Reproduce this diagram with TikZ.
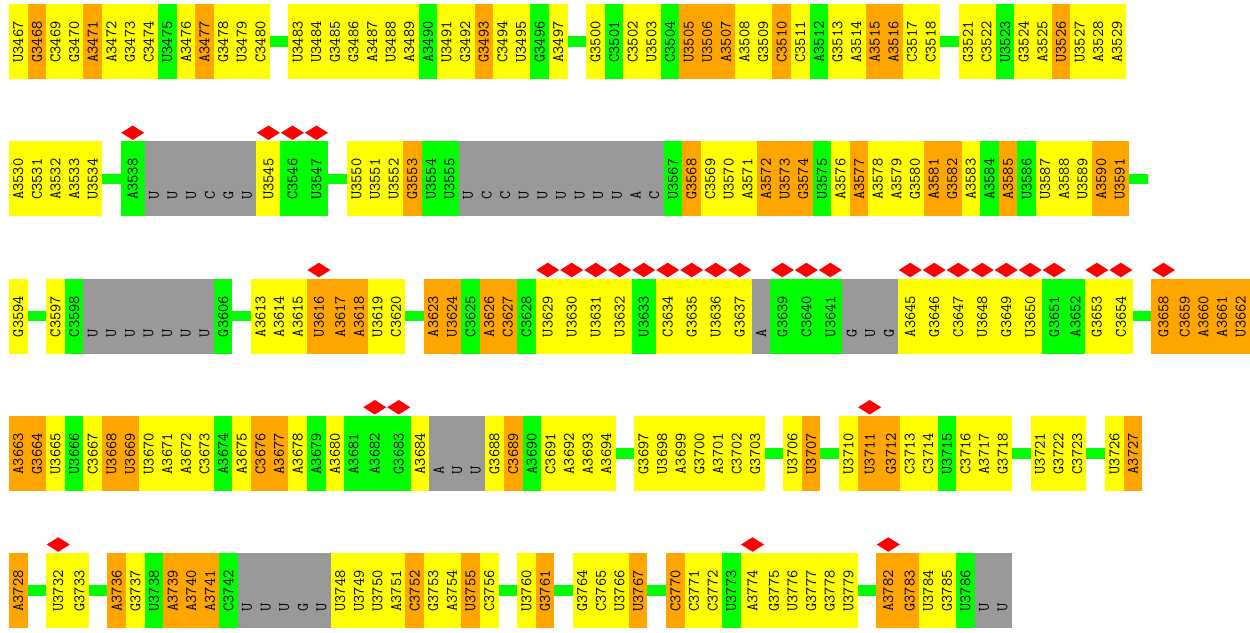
\documentclass[tikz,border=0pt]{standalone}
\usepackage{fontspec}
\usetikzlibrary{shapes.geometric}
\definecolor{cY}{RGB}{255,255,0}
\definecolor{cO}{RGB}{255,165,0}
\definecolor{cG}{RGB}{0,255,0}
\definecolor{cK}{RGB}{153,153,153}
\definecolor{cR}{RGB}{255,0,0}
\tikzset{
  cell/.style={rotate=90, minimum width=75pt, inner sep=0pt, outer sep=0pt,
    font=\ttfamily\fontsize{16}{16}\selectfont},
  redmark/.style={diamond, fill=cR, minimum width=23pt, minimum height=14.5pt,
    inner sep=0pt, outer sep=0pt},
  conn/.style={draw=cG, line width=10.5pt},
}
\newcommand\cellrow[2]{%
  \xdef\curx{9}%
  \pgfmathsetmacro\rtop{#1}%
  \pgfmathsetmacro\rmid{#1+37.5}%
  \foreach \ltr/\cnum/\ccol/\ctyp in {#2}{%
    \ifnum\ctyp=3
      \pgfmathsetmacro\nx{\curx+18.62}\xdef\curx{\nx}%
    \else
      \ifnum\ctyp=1 \def\cw{24}\else\def\cw{18.62}\fi
      \pgfmathsetmacro\cx{\curx+\cw/2}%
      \ifnum\ctyp=2 \edef\txt{\ltr}\else\edef\txt{\ltr\cnum}\fi
      \node[cell, fill=\ccol, minimum height=\cw pt] (n\cnum) at (\cx,\rmid) {\makebox[42pt][l]{\txt}};
      \ifnum\ctyp=1 \node[redmark] (m\cnum) at (\cx,\rtop-8.5) {};\fi
      \pgfmathsetmacro\nx{\curx+\cw}\xdef\curx{\nx}%
    \fi
  }%
}
\begin{document}
\begin{tikzpicture}[x=1pt,y=-1pt]
\fill[white] (0,0) rectangle (1250,632);
\useasboundingbox (0,0) rectangle (1250,632);
% row 1
\cellrow{4}{U/3467/cY/0, G/3468/cO/0, C/3469/cY/0, G/3470/cY/0, A/3471/cO/0, A/3472/cY/0, G/3473/cY/0, C/3474/cY/0, U/3475/cG/0, A/3476/cY/0, A/3477/cO/0, G/3478/cY/0, U/3479/cY/0, C/3480/cY/0,
 -/0/cY/3,
 U/3483/cY/0, U/3484/cY/0, G/3485/cY/0, G/3486/cY/0, A/3487/cY/0, U/3488/cY/0, A/3489/cY/0, A/3490/cG/0, U/3491/cY/0, G/3492/cY/0, G/3493/cO/0, C/3494/cY/0, U/3495/cY/0, G/3496/cG/0, A/3497/cY/0,
 -/0/cY/3,
 G/3500/cY/0, C/3501/cG/0, C/3502/cY/0, U/3503/cY/0, C/3504/cG/0, U/3505/cO/0, U/3506/cO/0, A/3507/cO/0, A/3508/cY/0, G/3509/cY/0, C/3510/cO/0, C/3511/cY/0, A/3512/cG/0, G/3513/cY/0, A/3514/cY/0, A/3515/cO/0, A/3516/cO/0, C/3517/cY/0, C/3518/cY/0,
 -/0/cY/3,
 G/3521/cY/0, C/3522/cY/0, U/3523/cG/0, G/3524/cY/0, A/3525/cY/0, U/3526/cO/0, U/3527/cY/0, A/3528/cY/0, A/3529/cY/0}
% row 2
\cellrow{141.25}{A/3530/cY/0, C/3531/cY/0, A/3532/cY/0, A/3533/cY/0, U/3534/cY/0,
 -/0/cY/3,
 A/3538/cG/1, U/3539/cK/2, U/3540/cK/2, U/3541/cK/2, C/3542/cK/2, G/3543/cK/2, U/3544/cK/2, U/3545/cY/1, C/3546/cG/1, U/3547/cG/1,
 -/0/cY/3,
 U/3550/cY/0, U/3551/cY/0, U/3552/cY/0, G/3553/cO/0, U/3554/cG/0, U/3555/cG/0, U/3556/cK/2, C/3557/cK/2, C/3558/cK/2, U/3559/cK/2, U/3560/cK/2, U/3561/cK/2, U/3562/cK/2, U/3563/cK/2, U/3564/cK/2, A/3565/cK/2, C/3566/cK/2, U/3567/cG/0, G/3568/cO/0, C/3569/cY/0, U/3570/cY/0, A/3571/cY/0, A/3572/cO/0, U/3573/cO/0, G/3574/cO/0, U/3575/cG/0, A/3576/cY/0, A/3577/cO/0, A/3578/cY/0, A/3579/cY/0, G/3580/cY/0, A/3581/cO/0, G/3582/cO/0, A/3583/cY/0, A/3584/cG/0, A/3585/cO/0, U/3586/cG/0, U/3587/cY/0, A/3588/cY/0, U/3589/cY/0, A/3590/cO/0, U/3591/cO/0}
% row 3
\cellrow{278.5}{G/3594/cY/0,
 -/0/cY/3,
 C/3597/cY/0, C/3598/cG/0, U/3599/cK/2, U/3600/cK/2, U/3601/cK/2, U/3602/cK/2, U/3603/cK/2, U/3604/cK/2, U/3605/cK/2, G/3606/cG/0,
 -/0/cY/3,
 A/3613/cY/0, A/3614/cY/0, A/3615/cY/0, U/3616/cO/1, A/3617/cO/0, A/3618/cO/0, U/3619/cY/0, C/3620/cY/0,
 -/0/cY/3,
 A/3623/cO/0, U/3624/cO/0, C/3625/cG/0, A/3626/cO/0, C/3627/cO/0, C/3628/cG/0, U/3629/cY/1, U/3630/cY/1, U/3631/cY/1, U/3632/cY/1, U/3633/cG/1, C/3634/cY/1, G/3635/cY/1, U/3636/cY/1, G/3637/cY/1, A/3638/cK/2, G/3639/cG/1, C/3640/cG/1, U/3641/cG/1, G/3642/cK/2, U/3643/cK/2, G/3644/cK/2, A/3645/cY/1, G/3646/cY/1, C/3647/cY/1, U/3648/cY/1, G/3649/cY/1, U/3650/cY/1, G/3651/cG/1, A/3652/cG/0, G/3653/cY/1, C/3654/cY/1,
 -/0/cY/3,
 G/3658/cO/1, C/3659/cO/0, A/3660/cO/0, A/3661/cO/0, U/3662/cO/0}
% row 4
\cellrow{415.75}{A/3663/cO/0, G/3664/cO/0, U/3665/cY/0, U/3666/cG/0, C/3667/cY/0, U/3668/cO/0, U/3669/cO/0, U/3670/cY/0, A/3671/cY/0, A/3672/cY/0, C/3673/cY/0, A/3674/cG/0, A/3675/cY/0, C/3676/cO/0, A/3677/cO/0, A/3678/cY/0, A/3679/cG/0, A/3680/cY/0, A/3681/cG/0, A/3682/cG/1, G/3683/cG/1, A/3684/cY/0, A/3685/cK/2, U/3686/cK/2, U/3687/cK/2, G/3688/cY/0, C/3689/cO/0, A/3690/cG/0, C/3691/cY/0, A/3692/cY/0, A/3693/cY/0, A/3694/cY/0,
 -/0/cY/3,
 G/3697/cY/0, U/3698/cY/0, A/3699/cY/0, G/3700/cY/0, A/3701/cY/0, C/3702/cY/0, G/3703/cY/0,
 -/0/cY/3,
 U/3706/cY/0, U/3707/cO/0,
 -/0/cY/3,
 U/3710/cY/0, U/3711/cO/1, G/3712/cO/0, C/3713/cY/0, C/3714/cY/0, U/3715/cG/0, C/3716/cY/0, A/3717/cY/0, G/3718/cY/0,
 -/0/cY/3,
 U/3721/cY/0, G/3722/cY/0, C/3723/cY/0,
 -/0/cY/3,
 U/3726/cY/0, A/3727/cO/0}
% row 5
\cellrow{553}{A/3728/cO/0,
 -/0/cY/3,
 U/3732/cY/1, G/3733/cY/0,
 -/0/cY/3,
 A/3736/cO/0, G/3737/cY/0, U/3738/cG/0, A/3739/cO/0, A/3740/cO/0, A/3741/cO/0, C/3742/cG/0, U/3743/cK/2, U/3744/cK/2, U/3745/cK/2, G/3746/cK/2, U/3747/cK/2, U/3748/cY/0, U/3749/cY/0, U/3750/cY/0, A/3751/cY/0, C/3752/cO/0, G/3753/cY/0, A/3754/cY/0, U/3755/cO/0, C/3756/cY/0,
 -/0/cY/3,
 U/3760/cY/0, G/3761/cO/0,
 -/0/cY/3,
 G/3764/cY/0, C/3765/cY/0, U/3766/cY/0, U/3767/cO/0,
 -/0/cY/3,
 C/3770/cO/0, C/3771/cY/0, C/3772/cY/0, U/3773/cG/0, A/3774/cY/1, G/3775/cY/0, U/3776/cY/0, G/3777/cY/0, G/3778/cY/0, U/3779/cY/0,
 -/0/cY/3,
 A/3782/cO/1, G/3783/cO/0, U/3784/cY/0, G/3785/cY/0, U/3786/cG/0, U/3787/cK/2, U/3788/cK/2}
% connectors
\draw[conn] (n3480.south) -- (n3483.north);
\draw[conn] (n3497.south) -- (n3500.north);
\draw[conn] (n3518.south) -- (n3521.north);
\draw[conn] (n3534.south) -- (n3538.north);
\draw[conn] (n3547.south) -- (n3550.north);
\path (n3591.south) ++(18.62,0) coordinate (e2);
\draw[conn] (n3591.south) -- (e2);
\draw[conn] (n3594.south) -- (n3597.north);
\draw[conn] (n3606.south) -- (n3613.north);
\draw[conn] (n3620.south) -- (n3623.north);
\draw[conn] (n3654.south) -- (n3658.north);
\draw[conn] (n3694.south) -- (n3697.north);
\draw[conn] (n3703.south) -- (n3706.north);
\draw[conn] (n3707.south) -- (n3710.north);
\draw[conn] (n3718.south) -- (n3721.north);
\draw[conn] (n3723.south) -- (n3726.north);
\draw[conn] (n3728.south) -- (n3732.north);
\draw[conn] (n3733.south) -- (n3736.north);
\draw[conn] (n3756.south) -- (n3760.north);
\draw[conn] (n3761.south) -- (n3764.north);
\draw[conn] (n3767.south) -- (n3770.north);
\draw[conn] (n3779.south) -- (n3782.north);
\end{tikzpicture}
\end{document}
